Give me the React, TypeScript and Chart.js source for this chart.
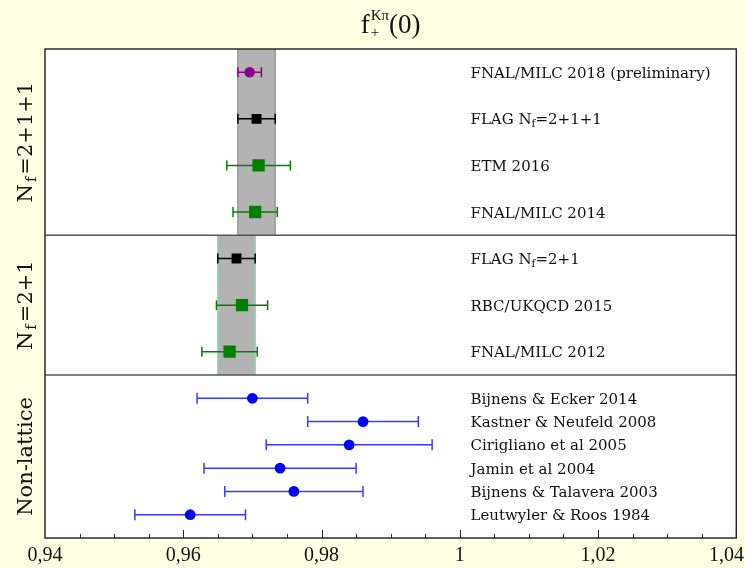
import React, { useEffect, useRef } from "react";
import { Chart, registerables } from "chart.js";

Chart.register(...registerables);

// ---------- data ----------
const X_MIN = 0.94;
const X_MAX = 1.04;
const TICK_VALUES = [0.94, 0.96, 0.98, 1.0, 1.02, 1.04];
const TICK_LABELS = ["0,94", "0,96", "0,98", "1", "1,02", "1,04"];
const MINOR_STEP = 0.005;

const Y_MAX = 21;
const PANEL_DIVIDERS = [7, 13];
const PANEL_LABELS = ["N_{f}=2+1+1", "N_{f}=2+1", "Non-lattice"];
const PANEL_FROM = [13, 7, 0];
const PANEL_TO = [21, 13, 7];

// FNAL/MILC 2018 preliminary
const PRELIM_LABELS = ["FNAL/MILC 2018 (preliminary)"];
const PRELIM_ROWS = [20];
const PRELIM_VALUES = [0.9696];
const PRELIM_ERRORS = [0.0017];

// FLAG averages (also define the grey bands)
const FLAG_LABELS = ["FLAG N_{f}=2+1+1", "FLAG N_{f}=2+1"];
const FLAG_ROWS = [18, 12];
const FLAG_VALUES = [0.9706, 0.9677];
const FLAG_ERRORS = [0.0027, 0.0027];
const FLAG_BAND_FROM = [13, 7];
const FLAG_BAND_TO = [21, 13];

// Lattice results
const LATTICE_LABELS = ["ETM 2016", "FNAL/MILC 2014", "RBC/UKQCD 2015", "FNAL/MILC 2012"];
const LATTICE_ROWS = [16, 14, 10, 8];
const LATTICE_VALUES = [0.9709, 0.9704, 0.9685, 0.9667];
const LATTICE_ERRORS = [0.0046, 0.0032, 0.0037, 0.004];

// Non-lattice results
const PHENO_LABELS = [
  "Bijnens & Ecker 2014",
  "Kastner & Neufeld 2008",
  "Cirigliano et al 2005",
  "Jamin et al 2004",
  "Bijnens & Talavera 2003",
  "Leutwyler & Roos 1984",
];
const PHENO_ROWS = [6, 5, 4, 3, 2, 1];
const PHENO_VALUES = [0.97, 0.986, 0.984, 0.974, 0.976, 0.961];
const PHENO_ERRORS = [0.008, 0.008, 0.012, 0.011, 0.01, 0.008];

// ---------- styles ----------
const BG = "#ffffe3";
const LABEL_FONT = "'DejaVu Serif'";
const AXIS_FONT = "'Liberation Serif'";

type Seg = { t: string; k: "n" | "sub" | "sup" };
function parseRich(s: string): Seg[] {
  const segs: Seg[] = [];
  const re = /([_^])\{([^}]*)\}/g;
  let last = 0;
  let m: RegExpExecArray | null;
  while ((m = re.exec(s))) {
    if (m.index > last) segs.push({ t: s.slice(last, m.index), k: "n" });
    segs.push({ t: m[2], k: m[1] === "_" ? "sub" : "sup" });
    last = re.lastIndex;
  }
  if (last < s.length) segs.push({ t: s.slice(last), k: "n" });
  return segs;
}

function drawRich(
  ctx: CanvasRenderingContext2D,
  s: string,
  x: number,
  baseline: number,
  size: number,
  family: string,
  align: "left" | "center",
  subGap = 0
) {
  const segs = parseRich(s);
  const sz = (sg: Seg) => (sg.k === "n" ? size : size * 0.7);
  const widths = segs.map((sg) => {
    ctx.font = `${sz(sg)}px ${family}`;
    return ctx.measureText(sg.t).width + (sg.k === "sub" ? subGap * 2 : 0);
  });
  const total = widths.reduce((a, b) => a + b, 0);
  let cx = align === "center" ? x - total / 2 : x;
  ctx.textAlign = "left";
  ctx.textBaseline = "alphabetic";
  segs.forEach((sg, i) => {
    ctx.font = `${sz(sg)}px ${family}`;
    const dy = sg.k === "sub" ? size * 0.2 : sg.k === "sup" ? -size * 0.4 : 0;
    ctx.fillText(sg.t, cx + (sg.k === "sub" ? subGap : 0), baseline + dy);
    cx += widths[i];
  });
}

function makePoints(values: number[], errors: number[], rows: number[]) {
  return values.map((v, i) => ({ x: v, y: rows[i], err: errors[i] }));
}

const customPlugin = {
  id: "fplusPlot",
  beforeDraw(chart: any) {
    const { ctx, chartArea: a, width, height } = chart;
    ctx.save();
    ctx.fillStyle = BG;
    ctx.fillRect(0, 0, width, height);
    ctx.fillStyle = "#ffffff";
    ctx.fillRect(a.left, a.top, a.right - a.left, a.bottom - a.top);
    ctx.restore();
  },
  beforeDatasetsDraw(chart: any) {
    const { ctx } = chart;
    const xs = chart.scales.x;
    const ys = chart.scales.y;
    const a = chart.chartArea;
    ctx.save();
    // FLAG bands
    const edgeColors = ["#9a9a9a", "#8fd4b4"];
    FLAG_VALUES.forEach((v, i) => {
      const x1 = xs.getPixelForValue(v - FLAG_ERRORS[i]);
      const x2 = xs.getPixelForValue(v + FLAG_ERRORS[i]);
      const y1 = ys.getPixelForValue(FLAG_BAND_TO[i]);
      const y2 = ys.getPixelForValue(FLAG_BAND_FROM[i]);
      ctx.fillStyle = "#b3b3b3";
      ctx.fillRect(x1, y1, x2 - x1, y2 - y1);
      ctx.strokeStyle = edgeColors[i];
      ctx.lineWidth = 1.5;
      ctx.beginPath();
      ctx.moveTo(x1, y1);
      ctx.lineTo(x1, y2);
      ctx.moveTo(x2, y1);
      ctx.lineTo(x2, y2);
      ctx.stroke();
    });
    // panel dividers
    ctx.strokeStyle = "#555555";
    ctx.lineWidth = 1.5;
    PANEL_DIVIDERS.forEach((d) => {
      const py = ys.getPixelForValue(d);
      ctx.beginPath();
      ctx.moveTo(a.left, py);
      ctx.lineTo(a.right, py);
      ctx.stroke();
    });
    // error bars
    chart.data.datasets.forEach((ds: any) => {
      ctx.strokeStyle = ds.errorColor;
      ctx.lineWidth = 1.5;
      ds.data.forEach((p: any) => {
        const x1 = xs.getPixelForValue(p.x - p.err);
        const x2 = xs.getPixelForValue(p.x + p.err);
        const py = ys.getPixelForValue(p.y);
        const c = ds.capHalf;
        ctx.beginPath();
        ctx.moveTo(x1, py);
        ctx.lineTo(x2, py);
        ctx.moveTo(x1, py - c);
        ctx.lineTo(x1, py + c);
        ctx.moveTo(x2, py - c);
        ctx.lineTo(x2, py + c);
        ctx.stroke();
      });
    });
    ctx.restore();
  },
  afterDraw(chart: any) {
    const { ctx } = chart;
    const xs = chart.scales.x;
    const ys = chart.scales.y;
    const a = chart.chartArea;
    ctx.save();
    // frame
    ctx.strokeStyle = "#2a2a2a";
    ctx.lineWidth = 1.5;
    ctx.strokeRect(a.left, a.top, a.right - a.left, a.bottom - a.top);
    // ticks (inside)
    ctx.lineWidth = 1;
    ctx.beginPath();
    const nMinor = Math.round((X_MAX - X_MIN) / MINOR_STEP);
    for (let i = 1; i < nMinor; i++) {
      const v = X_MIN + i * MINOR_STEP;
      const px = Math.round(xs.getPixelForValue(v)) + 0.5;
      const major = TICK_VALUES.some((t) => Math.abs(t - v) < 1e-9);
      ctx.moveTo(px, a.bottom);
      ctx.lineTo(px, a.bottom - (major ? 8 : 4));
    }
    ctx.stroke();
    // tick labels
    ctx.fillStyle = "#111111";
    ctx.font = `20px ${AXIS_FONT}`;
    ctx.textBaseline = "alphabetic";
    TICK_VALUES.forEach((v, i) => {
      const px = xs.getPixelForValue(v);
      const w = ctx.measureText(TICK_LABELS[i]).width;
      let left = px - w / 2;
      if (left + w > chart.width - 1) left = chart.width - 1 - w;
      ctx.textAlign = "left";
      ctx.fillText(TICK_LABELS[i], left, 561);
    });
    // title f_+^{Kπ}(0)
    ctx.fillStyle = "#111111";
    ctx.font = `27px ${AXIS_FONT}`;
    const fW = ctx.measureText("f").width;
    ctx.font = `15px ${AXIS_FONT}`;
    const supW = ctx.measureText("Kπ").width;
    ctx.font = `27px ${AXIS_FONT}`;
    const restW = ctx.measureText("(0)").width;
    const total = fW + 1 + supW + restW;
    let tx = (a.left + a.right) / 2 - total / 2;
    const tb = 33;
    ctx.textAlign = "left";
    ctx.fillText("f", tx, tb);
    tx += fW + 1;
    ctx.font = `15px ${AXIS_FONT}`;
    ctx.fillText("Kπ", tx, tb - 13);
    ctx.fillText("+", tx, tb + 4);
    tx += supW;
    ctx.font = `27px ${AXIS_FONT}`;
    ctx.fillText("(0)", tx, tb);
    // row labels
    const groups: [string[], number[]][] = [
      [PRELIM_LABELS, PRELIM_ROWS],
      [FLAG_LABELS, FLAG_ROWS],
      [LATTICE_LABELS, LATTICE_ROWS],
      [PHENO_LABELS, PHENO_ROWS],
    ];
    ctx.fillStyle = "#111111";
    groups.forEach(([labels, rows]) => {
      labels.forEach((l, i) => {
        const py = ys.getPixelForValue(rows[i]);
        drawRich(ctx, l, 470.5, py + 5.5, 15, LABEL_FONT, "left");
      });
    });
    // panel labels (rotated)
    PANEL_LABELS.forEach((l, i) => {
      const py = (ys.getPixelForValue(PANEL_FROM[i]) + ys.getPixelForValue(PANEL_TO[i])) / 2;
      ctx.save();
      ctx.translate(32, py);
      ctx.rotate(-Math.PI / 2);
      drawRich(ctx, l, 0, 0, 21, LABEL_FONT, "center", 2);
      ctx.restore();
    });
    ctx.restore();
  },
};

export default function App() {
  const ref = useRef<HTMLCanvasElement | null>(null);
  useEffect(() => {
    document.body.style.margin = "0";
    const canvas = ref.current;
    if (!canvas) return;
    const chart = new Chart(canvas, {
      type: "scatter",
      data: {
        datasets: [
          {
            label: "FNAL/MILC 2018 (preliminary)",
            data: makePoints(PRELIM_VALUES, PRELIM_ERRORS, PRELIM_ROWS),
            pointStyle: "circle",
            pointRadius: 5.3,
            backgroundColor: "#8b008b",
            borderColor: "#8b008b",
            borderWidth: 0,
            errorColor: "#8b008b",
            capHalf: 5,
          } as any,
          {
            label: "FLAG",
            data: makePoints(FLAG_VALUES, FLAG_ERRORS, FLAG_ROWS),
            pointStyle: "rect",
            pointRadius: 7,
            backgroundColor: "#000000",
            borderColor: "#000000",
            borderWidth: 0,
            errorColor: "#000000",
            capHalf: 5,
          } as any,
          {
            label: "Lattice",
            data: makePoints(LATTICE_VALUES, LATTICE_ERRORS, LATTICE_ROWS),
            pointStyle: "rect",
            pointRadius: 8.7,
            backgroundColor: "#008000",
            borderColor: "#008000",
            borderWidth: 0,
            errorColor: "#008000",
            capHalf: 5,
          } as any,
          {
            label: "Non-lattice",
            data: makePoints(PHENO_VALUES, PHENO_ERRORS, PHENO_ROWS),
            pointStyle: "circle",
            pointRadius: 5.4,
            backgroundColor: "#0000ff",
            borderColor: "#0000ff",
            borderWidth: 0,
            errorColor: "#3a3aff",
            capHalf: 5.5,
          } as any,
        ],
      },
      options: {
        animation: false,
        responsive: false,
        events: [],
        layout: { padding: { left: 45, right: 8, top: 49, bottom: 30 } },
        scales: {
          x: { type: "linear", min: X_MIN, max: X_MAX, display: false },
          y: { type: "linear", min: 0, max: Y_MAX, display: false },
        },
        plugins: { legend: { display: false }, tooltip: { enabled: false } },
      },
      plugins: [customPlugin],
    });
    return () => chart.destroy();
  }, []);
  return <canvas ref={ref} width={745} height={568} style={{ display: "block" }} />;
}
